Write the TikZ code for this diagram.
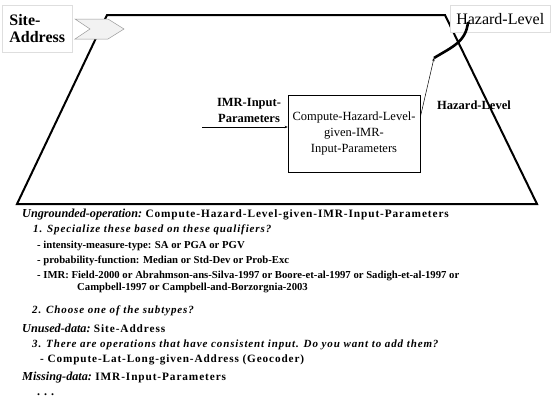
\documentclass[tikz,border=0pt]{standalone}
\usepackage{fontspec}
\setmainfont{Liberation Serif}
\newfontfamily\spacedSerif[LetterSpace=8]{Liberation Serif}
\usetikzlibrary{calc,arrows.meta}
\definecolor{frameGray}{RGB}{200,200,200}
\definecolor{chevronFill}{RGB}{242,242,242}
\tikzset{
  labelBox/.style={draw=frameGray!60,fill=white,line width=0.5pt,inner sep=3pt,align=left},
  plainText/.style={anchor=west,inner sep=0pt},
  askText/.style={plainText,font=\spacedSerif\fontsize{11}{11}\selectfont\bfseries\itshape},
  itemText/.style={plainText,font=\fontsize{10.7}{11}\selectfont\bfseries},
  thinArrow/.style={line width=0.5pt,-{Stealth[length=3pt,width=2.5pt]}}
}
\newcommand{\qHead}[1]{{\fontsize{12.2}{12}\selectfont\bfseries\itshape #1}}
\newcommand{\qName}[1]{{\spacedSerif\fontsize{11.3}{12}\selectfont\bfseries #1}}

\begin{document}
\begin{tikzpicture}[x=1pt,y=-1pt]
\useasboundingbox (0,0) rectangle (551,402);
% context frame
\draw[line width=2pt] (107,15) -- (445,15) -- (537,204) -- (17,204) -- cycle;
% data nodes
\node[labelBox,anchor=north west,minimum width=70pt,minimum height=47pt,font=\fontsize{16}{17}\selectfont\bfseries] (siteBox) at (2,5) {Site-\\Address};
\draw[draw=gray!80,fill=chevronFill,line width=0.5pt] (75,19) -- (108,19) -- (124,29) -- (108,39) -- (75,39) -- (90,29) -- cycle;
\node[labelBox,anchor=north west,minimum width=100pt,minimum height=27pt,font=\fontsize{16}{17}\selectfont] (hazardBox) at (450,5) {Hazard-Level};
% operation
\node[draw,line width=0.6pt,minimum width=132pt,minimum height=77pt,align=center,font=\fontsize{12.5}{16}\selectfont] (computeBox) at (354,133.5) {Compute-Hazard-Level-\\given-IMR-\\Input-Parameters};
\node[plainText,anchor=center,align=center,font=\fontsize{12.5}{16}\selectfont\bfseries] (imrLabel) at (249,110) {IMR-Input-\\Parameters};
\node[plainText,anchor=center,font=\fontsize{12.5}{13}\selectfont\bfseries] (hazardLabel) at (474,105) {Hazard-Level};
\coordinate (imrStart) at (202,127);
\coordinate (outPort) at (434,58);
\draw[thinArrow] (imrStart) -- (imrStart -| computeBox.west);
\draw[thinArrow] ($(computeBox.north east)!0.29!(computeBox.south east)$) -- (outPort);
\draw[line width=2.6pt] (outPort) .. controls (452,47) and (466,42) .. (468,22);
% questions
\node[plainText] (ungrounded) at (22,215) {\qHead{Ungrounded-operation:} \qName{Compute-Hazard-Level-given-IMR-Input-Parameters}};
\node[askText] (specialize) at (33,230) {1. Specialize these based on these qualifiers?};
\node[itemText] (itemType) at (37,246) {- intensity-measure-type: SA or PGA or PGV};
\node[itemText] (itemProb) at (37,261) {- probability-function: Median or Std-Dev or Prob-Exc};
\node[itemText] (itemImr) at (37,276) {- IMR: Field-2000 or Abrahmson-ans-Silva-1997 or Boore-et-al-1997 or Sadigh-et-al-1997 or};
\node[itemText] (itemImrCont) at (77,288) {Campbell-1997 or Campbell-and-Borzorgnia-2003};
\node[askText] (choose) at (32,311) {2. Choose one of the subtypes?};
\node[plainText] (unused) at (22,328) {\qHead{Unused-data:} \qName{Site-Address}};
\node[askText] (consistent) at (32,345) {3. There are operations that have consistent input. Do you want to add them?};
\node[plainText,font=\spacedSerif\fontsize{11.2}{11}\selectfont\bfseries] (geocoder) at (40,360) {- Compute-Lat-Long-given-Address (Geocoder)};
\node[plainText] (missing) at (22,378) {\qHead{Missing-data:} \qName{IMR-Input-Parameters}};
\node[plainText,font=\fontsize{12}{12}\selectfont\bfseries] (dots) at (37,395) {. . .};
\end{tikzpicture}
\end{document}
